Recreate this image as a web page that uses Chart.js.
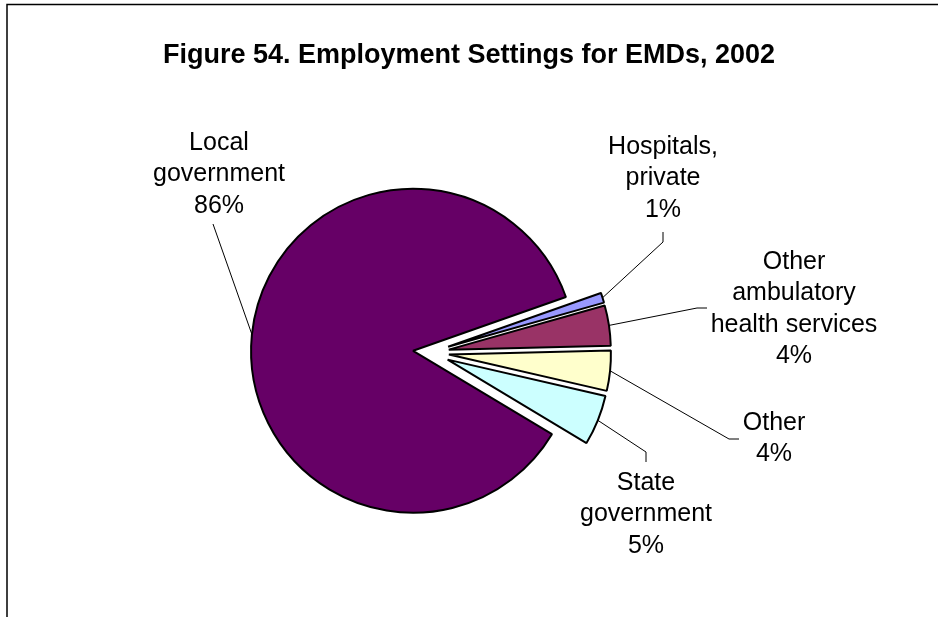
<!DOCTYPE html>
<html>
<head>
<meta charset="utf-8">
<title>Employment Settings for EMDs, 2002</title>
<script src="https://cdn.jsdelivr.net/npm/chart.js@4/dist/chart.umd.min.js"></script>
<style>
    html, body { margin: 0; padding: 0; background: #fff; }
    #wrap { position: relative; width: 938px; height: 617px; }
</style>
</head>
<body>
<div id="wrap"><canvas id="settingsChart"></canvas></div>
<script>
// --- Data ---
const categories = ['Local government', 'Hospitals, private', 'Other ambulatory health services', 'Other', 'State government'];
const shares = [86, 1, 4, 4, 5];
const sliceColors = ['#660066', '#9999FF', '#993366', '#FFFFCC', '#CCFFFF'];
const labelLines = [
    ['Local', 'government'],
    ['Hospitals,', 'private'],
    ['Other', 'ambulatory', 'health services'],
    ['Other'],
    ['State', 'government']
];

// --- Layout / style ---
const titleText = 'Figure 54. Employment Settings for EMDs, 2002';
const explodePx = [17, 19, 19, 19, 19];
// label block centre x, first line y, leader points running from the label towards the slice
const labelLayout = [
    { x: 219, y: 143, leader: [[213, 224]] },
    { x: 663, y: 147, leader: [[663, 232], [663, 242]] },
    { x: 794, y: 262, leader: [[707, 308], [697, 308]] },
    { x: 774, y: 423, leader: [[739, 439], [729, 439]] },
    { x: 646, y: 483, leader: [[646, 462], [646, 452]] }
];
const lineStep = 31.5;

// draw every slice pushed out along its own bisector
const explodePlugin = {
    id: 'explode',
    beforeDatasetDraw(chart, args) {
        const ctx = chart.ctx;
        args.meta.data.forEach((arc, i) => {
            const mid = (arc.startAngle + arc.endAngle) / 2;
            ctx.save();
            ctx.translate(Math.cos(mid) * explodePx[i], Math.sin(mid) * explodePx[i]);
            arc.draw(ctx);
            ctx.restore();
        });
        return false;
    }
};

// frame, title, leader lines and labels
const decorPlugin = {
    id: 'decor',
    beforeDraw(chart) {
        const ctx = chart.ctx;
        ctx.save();
        ctx.strokeStyle = '#000';
        ctx.lineWidth = 1.5;
        ctx.beginPath();
        ctx.moveTo(7, chart.height);
        ctx.lineTo(7, 4.5);
        ctx.lineTo(chart.width, 4.5);
        ctx.stroke();
        ctx.restore();
    },
    afterDatasetsDraw(chart) {
        const ctx = chart.ctx;
        const arcs = chart.getDatasetMeta(0).data;
        ctx.save();

        ctx.fillStyle = '#000';
        ctx.textAlign = 'center';
        ctx.textBaseline = 'alphabetic';
        ctx.font = 'bold 27px "Liberation Sans", Arial, sans-serif';
        ctx.fillText(titleText, chart.width / 2, 63);

        arcs.forEach((arc, i) => {
            const mid = (arc.startAngle + arc.endAngle) / 2;
            const r = explodePx[i] + arc.outerRadius;
            const ex = arc.x + Math.cos(mid) * r;
            const ey = arc.y + Math.sin(mid) * r;
            const lay = labelLayout[i];

            ctx.strokeStyle = '#000';
            ctx.lineWidth = 1;
            ctx.beginPath();
            lay.leader.forEach((p, k) => k === 0 ? ctx.moveTo(p[0], p[1]) : ctx.lineTo(p[0], p[1]));
            ctx.lineTo(ex, ey);
            ctx.stroke();

            const lines = labelLines[i].concat([shares[i] + '%']);
            ctx.font = '25px "Liberation Sans", Arial, sans-serif';
            ctx.textBaseline = 'middle';
            lines.forEach((t, k) => ctx.fillText(t, lay.x, lay.y + k * lineStep));
        });
        ctx.restore();
    }
};

const ctx = document.getElementById('settingsChart').getContext('2d');
new Chart(ctx, {
    type: 'pie',
    data: {
        labels: categories,
        datasets: [{
            data: shares,
            backgroundColor: sliceColors,
            borderColor: '#000',
            borderWidth: 2
        }]
    },
    options: {
        responsive: true,
        maintainAspectRatio: false,
        animation: false,
        rotation: 121,
        radius: 162,
        layout: {
            padding: { left: 100, right: 178, top: 92, bottom: 4 }
        },
        plugins: {
            legend: { display: false },
            tooltip: { enabled: false },
            title: { display: false }
        }
    },
    plugins: [explodePlugin, decorPlugin]
});
</script>
</body>
</html>
